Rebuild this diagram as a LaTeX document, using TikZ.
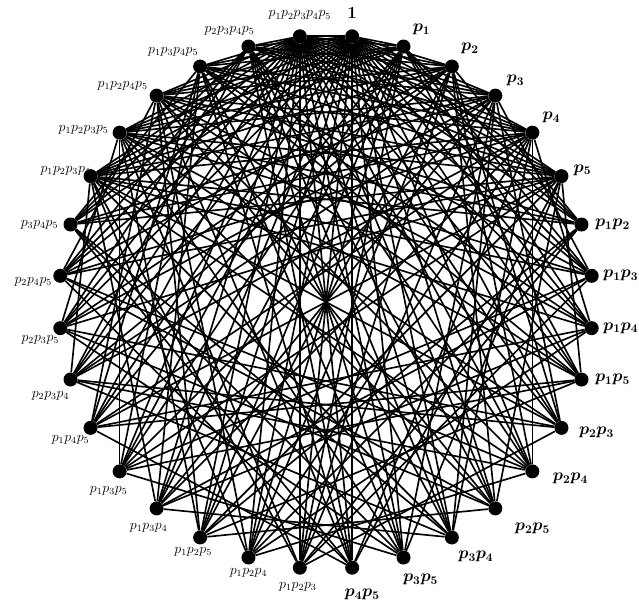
\documentclass[tikz,border=0pt]{standalone}
\usepackage{amsmath,amssymb}
\usepackage{tikz}
\usetikzlibrary{calc}

% index/bitmask of each divisor (p1=1, p2=2, p3=4, p4=8, p5=16)
\def\divlist{0/0,1/1,2/2,3/4,4/8,5/16,6/3,7/5,8/9,9/17,10/6,11/10,12/18,13/12,14/20,15/24,%
16/7,17/11,18/19,19/13,20/21,21/25,22/14,23/22,24/26,25/28,26/15,27/23,28/27,29/29,30/30,31/31}

\begin{document}
\begin{tikzpicture}[
  x=0.03cm, y=0.03cm,
  % divisor vertex
  dvert/.style={circle, fill=black, minimum size=0.42cm, inner sep=0pt},
  % edge: one divides the other
  rel/.style={draw=black, line width=1.4pt},
  % labels
  lbig/.style={font=\Large\boldmath, inner sep=0pt},
  lsmall/.style={font=\large, inner sep=0pt},
]
\useasboundingbox (-326,-302) rectangle (313,302);

%% ── Vertices (on a circle, 1 at the top) ─────────────────────────────────
\foreach \i in {0,...,31}
  \node[dvert] (v\i) at ({84.375-11.25*\i}:267) {};

%% ── Labels ───────────────────────────────────────────────────────────────
\foreach \i/\t/\dx/\dy in {0/1/0/23, 1/p_1/18/17, 2/p_2/18/18, 3/p_3/20/15,
    4/p_4/19/15, 5/p_5/21/6, 6/p_1p_2/31/0, 7/p_1p_3/29/0, 8/p_1p_4/29/0,
    9/p_1p_5/31/0, 10/p_2p_3/35/-5, 11/p_2p_4/38/-7, 12/p_2p_5/37/-20,
    13/p_3p_4/24/-19, 14/p_3p_5/17/-22, 15/p_4p_5/10/-27}
  \node[lbig] (t\i) at ($(v\i)+(\dx,\dy)$) {$\t$};

\foreach \i/\t/\dx/\dy in {16/p_1p_2p_3/-2/-19, 17/p_1p_2p_4/0/-15,
    18/p_1p_2p_5/-7/-14, 19/p_1p_3p_4/-8/-19, 20/p_1p_3p_5/-11/-19,
    21/p_1p_4p_5/-20/-12, 22/p_2p_3p_4/-20/-16, 23/p_2p_3p_5/-20/-12,
    24/p_2p_4p_5/-27/-6, 25/p_3p_4p_5/-31/0, 26/p_1p_2p_3p_4/-25/5,
    27/p_1p_2p_3p_5/-36/3, 28/p_1p_2p_4p_5/-34/10, 29/p_1p_3p_4p_5/-27/15,
    30/p_2p_3p_4p_5/-19/16, 31/p_1p_2p_3p_4p_5/0/21}
  \node[lsmall] (t\i) at ($(v\i)+(\dx,\dy)$) {$\t$};

%% ── Edges ────────────────────────────────────────────────────────────────
\foreach \i/\a in \divlist {
  \foreach \j/\b in \divlist {
    \ifnum\i<\j\relax
      \pgfmathtruncatemacro\g{mod(\a,2)*mod(\b,2)
        +2*mod(floor(\a/2),2)*mod(floor(\b/2),2)
        +4*mod(floor(\a/4),2)*mod(floor(\b/4),2)
        +8*mod(floor(\a/8),2)*mod(floor(\b/8),2)
        +16*mod(floor(\a/16),2)*mod(floor(\b/16),2)}
      \pgfmathtruncatemacro\e{or(\g==\a,\g==\b)}
      \ifnum\e=1\relax \draw[rel] (v\i) -- (v\j); \fi
    \fi
  }
}

\end{tikzpicture}
\end{document}
